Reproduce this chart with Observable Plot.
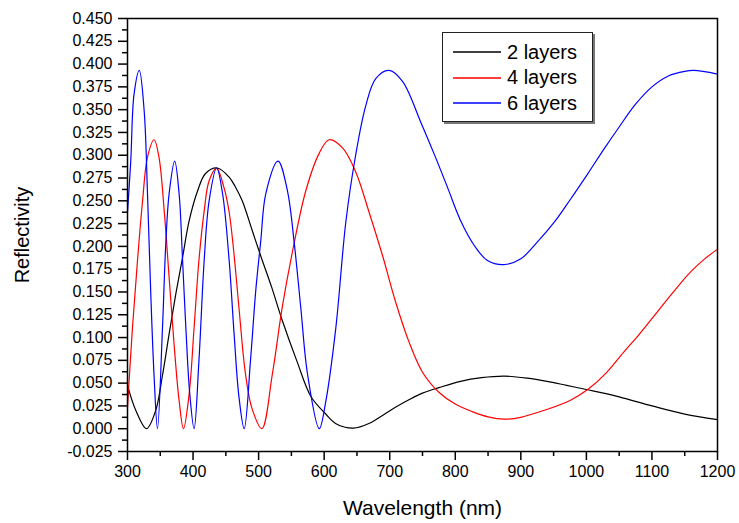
<!DOCTYPE html>
<html>
<head>
<meta charset="utf-8">
<script src="https://cdn.jsdelivr.net/npm/d3@7"></script>
<script src="https://cdn.jsdelivr.net/npm/@observablehq/plot@0.6"></script>
<style>
  html, body { margin: 0; padding: 0; background: #fff; }
  #wrap { position: relative; width: 739px; height: 523px; font-family: "Liberation Sans", Arial, sans-serif; }
  #legend { position: absolute; left: 442px; top: 32px; width: 149px; height: 88px; border: 1px solid #222;
            box-shadow: 2px 2px 0 #777; background: #fff; }
  .row { position: absolute; left: 0; height: 24px; display: flex; align-items: center; }
  .row svg { margin-left: 10px; margin-right: 6px; }
  .row span { font-size: 20px; color: #000; }
</style>
</head>
<body>
<div id="wrap"></div>
<script>
// ---- data ----
const seriesNames = ["2 layers", "4 layers", "6 layers"];
const seriesColors = ["#000000", "#ff0000", "#0000ff"];

const wl2 = [300, 312.7, 329, 343, 353, 363.5, 373.7, 384, 394, 407, 419, 437, 455, 464, 475, 490, 503, 520, 536, 558, 580, 602, 618, 645, 669, 689, 710, 730, 750, 775, 808, 840, 875, 910, 940, 970, 1000, 1050, 1100, 1150, 1200];
const r2  = [0.0475, 0.020, 0.000, 0.020, 0.057, 0.104, 0.148, 0.188, 0.228, 0.261, 0.280, 0.286, 0.276, 0.266, 0.250, 0.218, 0.190, 0.155, 0.119, 0.075, 0.035, 0.0164, 0.0055, 0.0007, 0.006, 0.0146, 0.024, 0.032, 0.039, 0.045, 0.052, 0.056, 0.0577, 0.0555, 0.052, 0.0475, 0.043, 0.035, 0.025, 0.016, 0.010];

const wl4 = [300, 307.6, 315.3, 323, 330.5, 340.6, 348, 356, 363.5, 371, 378.7, 385.4, 394, 401.6, 409, 417, 424.5, 436, 447, 455, 462, 470, 480, 490, 505, 521, 536, 552, 572, 592, 607.5, 628, 648, 668.5, 689, 709, 729.5, 750, 775, 800, 825, 850, 875, 900, 935, 975, 1002, 1030, 1057, 1080, 1108, 1135, 1159, 1180, 1200];
const r4  = [0.0237, 0.111, 0.185, 0.250, 0.298, 0.317, 0.298, 0.239, 0.166, 0.093, 0.031, 0.000, 0.038, 0.111, 0.185, 0.239, 0.272, 0.2855, 0.265, 0.238, 0.195, 0.133, 0.060, 0.022, 0.000, 0.060, 0.133, 0.1955, 0.261, 0.3015, 0.317, 0.308, 0.282, 0.2375, 0.190, 0.139, 0.095, 0.062, 0.040, 0.027, 0.019, 0.013, 0.0105, 0.0125, 0.020, 0.031, 0.043, 0.061, 0.084, 0.103, 0.128, 0.152, 0.172, 0.186, 0.197];

const wl6 = [300, 305, 310, 318, 325.4, 330.5, 335.5, 340.6, 345.7, 353.4, 358.4, 363.5, 372, 378.7, 384, 389, 395, 401.6, 409, 417, 424.5, 436, 445, 455, 462.6, 470, 478, 488, 495.7, 503.3, 511, 529.7, 544, 554, 564.3, 574.6, 592.5, 602.5, 617.7, 633, 648, 663.5, 678.7, 699, 719.5, 747.5, 767.7, 788, 808, 829, 849, 874.5, 900, 925, 951, 976, 1002, 1027, 1050, 1075, 1100, 1125, 1150, 1164, 1200];
const r6  = [0.2375, 0.294, 0.367, 0.393, 0.349, 0.258, 0.148, 0.057, 0.000, 0.111, 0.203, 0.258, 0.2935, 0.258, 0.185, 0.111, 0.038, 0.000, 0.075, 0.185, 0.250, 0.286, 0.258, 0.185, 0.104, 0.035, 0.000, 0.0785, 0.152, 0.206, 0.258, 0.2935, 0.261, 0.206, 0.133, 0.060, 0.000, 0.030, 0.110, 0.2265, 0.300, 0.3545, 0.384, 0.393, 0.381, 0.336, 0.3015, 0.265, 0.2284, 0.201, 0.1845, 0.180, 0.1864, 0.2046, 0.2265, 0.252, 0.2796, 0.307, 0.331, 0.356, 0.375, 0.387, 0.392, 0.393, 0.389];

const xTicks = [300, 400, 500, 600, 700, 800, 900, 1000, 1100, 1200];
const xMinorTicks = [350, 450, 550, 650, 750, 850, 950, 1050, 1150];
const yTicks = [-0.025, 0.000, 0.025, 0.050, 0.075, 0.100, 0.125, 0.150, 0.175, 0.200, 0.225, 0.250, 0.275, 0.300, 0.325, 0.350, 0.375, 0.400, 0.425, 0.450];
const yMinorTicks = yTicks.slice(0, -1).map(v => v + 0.0125);

const xTitle = "Wavelength (nm)";
const yTitle = "Reflectivity";

// ---- build table ----
const wls = [wl2, wl4, wl6], rs = [r2, r4, r6];
const rows = [];
seriesNames.forEach((name, i) => wls[i].forEach((w, j) => rows.push({series: name, wl: w, r: rs[i][j]})));

const fmtY = d => (d < -1e-9 ? "-" : "") + Math.abs(d).toFixed(3);
const FONT = "Liberation Sans, Arial, sans-serif";

const chart = Plot.plot({
  width: 739,
  height: 523,
  marginLeft: 127,
  marginRight: 22,
  marginTop: 18,
  marginBottom: 72,
  style: {fontFamily: FONT, fontSize: "16px", color: "#000", background: "#fff", overflow: "visible"},
  x: {domain: [300, 1200]},
  y: {domain: [-0.025, 0.45]},
  color: {domain: seriesNames, range: seriesColors},
  marks: [
    Plot.line(rows, {x: "wl", y: "r", z: "series", stroke: "series", strokeWidth: 1.2, curve: "catmull-rom"}),
    Plot.frame({stroke: "#000", strokeWidth: 1.5}),
    Plot.axisX(xTicks, {tickSize: 9, tickPadding: 5, fontSize: 16, strokeWidth: 1.5, label: null, tickFormat: d => String(d)}),
    Plot.axisX(xMinorTicks, {tickSize: 5, strokeWidth: 1.5, label: null, tickFormat: () => ""}),
    Plot.axisY(yTicks, {tickSize: 9, tickPadding: 6, fontSize: 16, strokeWidth: 1.5, label: null, tickFormat: fmtY}),
    Plot.axisY(yMinorTicks, {tickSize: 5, strokeWidth: 1.5, label: null, tickFormat: () => ""}),
    Plot.text([xTitle], {frameAnchor: "bottom", dy: 57, fontSize: 21, text: d => d, lineAnchor: "middle"}),
    Plot.text([yTitle], {frameAnchor: "left", dx: -105, fontSize: 20, rotate: -90, text: d => d, textAnchor: "middle", lineAnchor: "middle"})
  ]
});

const wrap = document.getElementById("wrap");
wrap.appendChild(chart);

// legend
const legend = document.createElement("div");
legend.id = "legend";
seriesNames.forEach((name, i) => {
  const row = document.createElement("div");
  row.className = "row";
  row.style.top = (7 + i * 25.5) + "px";
  row.innerHTML = `<svg width="48" height="4"><line x1="0" x2="48" y1="2" y2="2" stroke="${seriesColors[i]}" stroke-width="1.3"/></svg><span>${name}</span>`;
  legend.appendChild(row);
});
wrap.appendChild(legend);
</script>
</body>
</html>
